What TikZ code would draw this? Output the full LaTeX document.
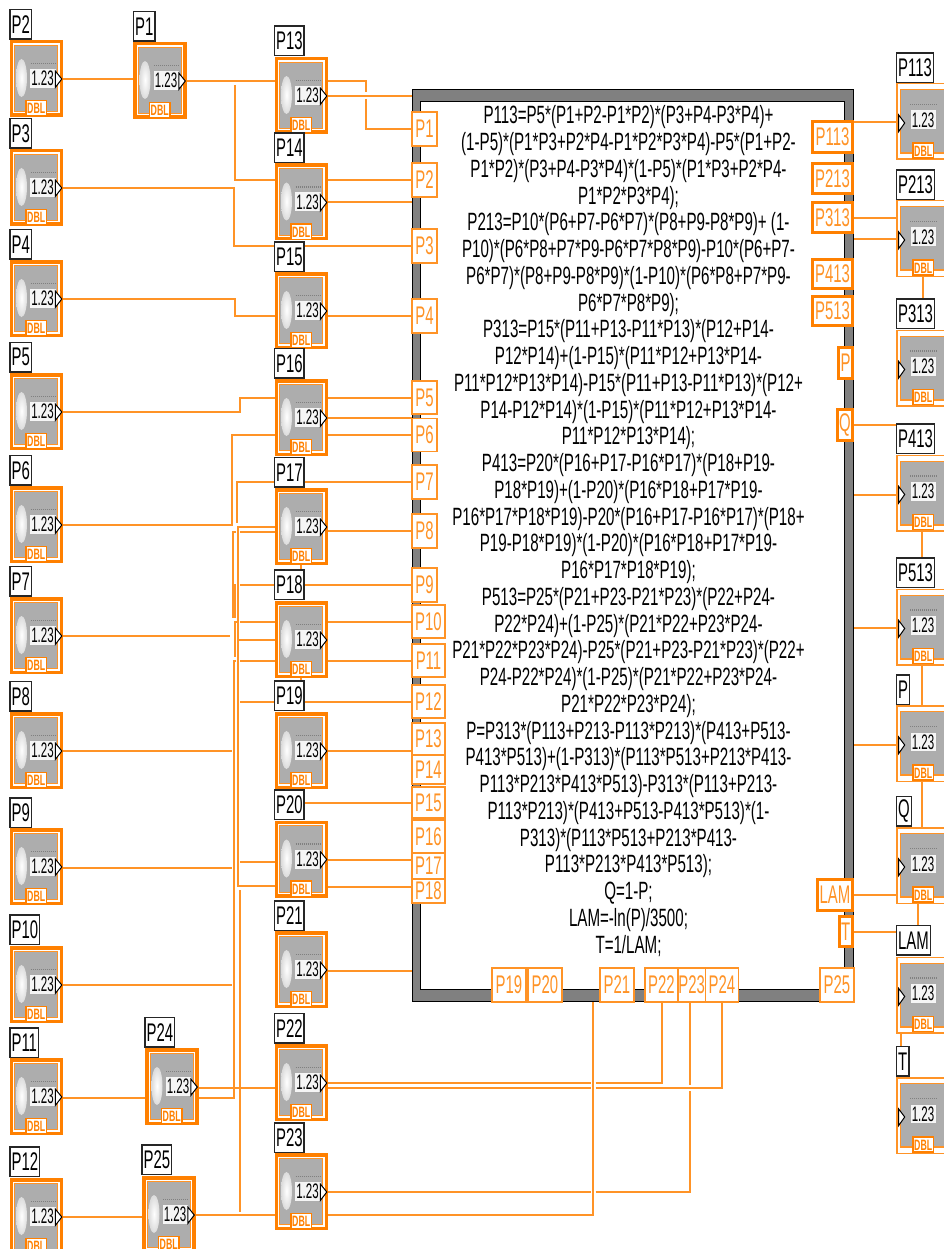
\documentclass[tikz,border=0pt]{standalone}
\usepackage{fontspec}
\setmainfont{Liberation Sans}
\newfontfamily\nf[FakeStretch=0.585]{Liberation Sans}
\newfontfamily\nfe[FakeStretch=0.605]{Liberation Sans}
\newfontfamily\nfn[FakeStretch=0.55]{Liberation Sans}
\usetikzlibrary{backgrounds}
\definecolor{othick}{HTML}{FF8000}
\definecolor{owire}{HTML}{FF9326}
\definecolor{blockgray}{HTML}{ADADAD}
\definecolor{framegray}{HTML}{808080}
\tikzset{
  x=1pt,y=-1pt,
  wire/.style={draw=owire,line width=2pt,line join=miter},
  lbl/.style={draw=black!85,fill=white,line width=1.5pt,anchor=north west,minimum height=29.5pt,inner xsep=1.6pt,inner ysep=0pt,outer sep=0pt,text=black,font=\nf\fontsize{25.5}{26}\selectfont},
  blk/.style={anchor=north west,minimum width=53.5pt,minimum height=77pt,inner sep=0pt,outer sep=0pt},
  val/.style={inner sep=0pt,text=black,font=\nfn\fontsize{21}{22}\selectfont},
  dbl/.style={inner sep=0pt,text=othick,font=\nf\bfseries\fontsize{15}{16}\selectfont},
  term/.style={draw=owire,fill=white,line width=1.6pt,inner sep=0pt,outer sep=0pt,text=owire,font=\nf\fontsize{25.5}{26}\selectfont},
  termout/.style={term,draw=othick,line width=3pt},
  formula/.style={align=center,inner sep=0pt,text=black,font=\nfe\fontsize{25}{26.75}\selectfont},
}
% #1 name/label, #2 #3 block top-left, #4 #5 label top-left
\newcommand\ctlbox[5]{%
  \node[blk] (b#1) at (#2,#3) {};
  \begin{scope}[shift={(#2,#3)}]
    \fill[othick] (0,0) rectangle (53.5,77);
    \fill[white] (3.5,3.5) rectangle (50,73.5);
    \fill[othick!85] (4.7,4.7) rectangle (48.8,72.3);
    \fill[blockgray] (5.9,5.9) rectangle (47.6,71.1);
    \shade[inner color=white,outer color=black!14] (12,38) ellipse (5.5 and 19);
    \draw[black!50,line width=1.2pt,dash pattern=on 1pt off 1pt] (21,23.5) -- (46,23.5);
    \fill[white!92!gray] (20.5,29) rectangle (46,48);
    \filldraw[fill=white,draw=black,line width=1pt] (45.8,31) -- (52.3,39) -- (45.8,47.5) -- cycle;
    \filldraw[fill=white,draw=othick,line width=1.5pt] (16.5,60.5) rectangle (36.8,76);
  \end{scope}
  \node[val] (v#1) at (#2+33,#3+38.5) {1.23};
  \node[dbl] (d#1) at (#2+26.7,#3+68.5) {DBL};
  \node[lbl] (l#1) at (#4,#5) {#1};
}
\newcommand\indbox[5]{%
  \node[blk] (b#1) at (#2,#3) {};
  \begin{scope}[shift={(#2,#3)}]
    \fill[owire] (0,0) rectangle (53.5,77);
    \fill[white] (1.5,1.5) rectangle (52,75.5);
    \fill[owire] (3.7,6) rectangle (50,71);
    \fill[blockgray] (4.7,7) rectangle (49,69.3);
    \draw[black!50,line width=1.2pt,dash pattern=on 1pt off 1pt] (14,21.5) -- (41,21.5);
    \fill[white!92!gray] (14.5,27.5) rectangle (39.5,46);
    \filldraw[fill=white,draw=black,line width=1pt] (2.7,32) -- (8.7,40) -- (2.7,48.5) -- cycle;
    \filldraw[fill=white,draw=othick,line width=1.5pt] (17,60) rectangle (37.5,75);
  \end{scope}
  \node[val] (v#1) at (#2+27,#3+37) {1.23};
  \node[dbl] (d#1) at (#2+27.2,#3+68) {DBL};
  \node[lbl] (l#1) at (#4,#5) {#1};
}
% #1 style, #2 name/label, #3 #4 #5 #6 corners
\newcommand\termbox[6]{%
  \node[#1,minimum width={(#5)-(#3)},minimum height={(#6)-(#4)}] (t#2) at ({((#3)+(#5))/2},{((#4)+(#6))/2}) {#2};
}
\begin{document}
\begin{tikzpicture}
\useasboundingbox (0,0) rectangle (944,1249);
\clip (0,0) rectangle (944,1249);
% structure frame
\node[minimum width=442.5pt,minimum height=913pt,inner sep=0pt,outer sep=0pt,anchor=north west] (box) at (411.5,89) {};
\fill[black] (411.5,89) rectangle (854,1002);
\fill[framegray] (412.5,90) rectangle (853,1001);
\fill[black] (420,101) rectangle (845,990);
\fill[white] (421,102) rectangle (844,989);
\node[formula] (eq) at (628.5,531) {P113=P5*(P1+P2-P1*P2)*(P3+P4-P3*P4)+\\
(1-P5)*(P1*P3+P2*P4-P1*P2*P3*P4)-P5*(P1+P2-\\
P1*P2)*(P3+P4-P3*P4)*(1-P5)*(P1*P3+P2*P4-\\
P1*P2*P3*P4);\\
P213=P10*(P6+P7-P6*P7)*(P8+P9-P8*P9)+ (1-\\
P10)*(P6*P8+P7*P9-P6*P7*P8*P9)-P10*(P6+P7-\\
P6*P7)*(P8+P9-P8*P9)*(1-P10)*(P6*P8+P7*P9-\\
P6*P7*P8*P9);\\
P313=P15*(P11+P13-P11*P13)*(P12+P14-\\
P12*P14)+(1-P15)*(P11*P12+P13*P14-\\
P11*P12*P13*P14)-P15*(P11+P13-P11*P13)*(P12+\\
P14-P12*P14)*(1-P15)*(P11*P12+P13*P14-\\
P11*P12*P13*P14);\\
P413=P20*(P16+P17-P16*P17)*(P18+P19-\\
P18*P19)+(1-P20)*(P16*P18+P17*P19-\\
P16*P17*P18*P19)-P20*(P16+P17-P16*P17)*(P18+\\
P19-P18*P19)*(1-P20)*(P16*P18+P17*P19-\\
P16*P17*P18*P19);\\
P513=P25*(P21+P23-P21*P23)*(P22+P24-\\
P22*P24)+(1-P25)*(P21*P22+P23*P24-\\
P21*P22*P23*P24)-P25*(P21+P23-P21*P23)*(P22+\\
P24-P22*P24)*(1-P25)*(P21*P22+P23*P24-\\
P21*P22*P23*P24);\\
P=P313*(P113+P213-P113*P213)*(P413+P513-\\
P413*P513)+(1-P313)*(P113*P513+P213*P413-\\
P113*P213*P413*P513)-P313*(P113+P213-\\
P113*P213)*(P413+P513-P413*P513)*(1-\\
P313)*(P113*P513+P213*P413-\\
P113*P213*P413*P513);\\
Q=1-P;\\
LAM=-ln(P)/3500;\\
T=1/LAM;};
% left terminals
\termbox{term}{P1}{412}{112}{437}{146}
\termbox{term}{P2}{412}{163}{437}{197}
\termbox{term}{P3}{412}{229}{437}{263}
\termbox{term}{P4}{412}{299}{437}{333}
\termbox{term}{P5}{412}{381}{437}{414}
\termbox{term}{P6}{412}{418.5}{437}{451.5}
\termbox{term}{P7}{412}{465}{437}{499}
\termbox{term}{P8}{412}{514}{437}{548}
\termbox{term}{P9}{412}{568}{437}{602}
\termbox{term}{P10}{412}{605}{445}{638}
\termbox{term}{P11}{412}{644}{445}{677}
\termbox{term}{P12}{412}{685}{445}{718}
\termbox{term}{P13}{412}{723}{445}{755}
\termbox{term}{P14}{412}{755}{445}{784}
\termbox{term}{P15}{412}{787}{445}{818}
\termbox{term}{P16}{412}{820}{445}{853}
\termbox{term}{P17}{412}{853}{445}{879}
\termbox{term}{P18}{412}{879}{445}{903}
% bottom terminals
\termbox{term}{P19}{492}{968}{526}{1002}
\termbox{term}{P20}{528}{968}{562}{1002}
\termbox{term}{P21}{600}{968}{634}{1002}
\termbox{term}{P22}{645}{968}{678}{1002}
\termbox{term}{P23}{678}{968}{705.5}{1002}
\termbox{term}{P24}{705.5}{968}{738.5}{1002}
\termbox{term}{P25}{820}{968}{854}{1002}
% right terminals
\termbox{termout}{P113}{812.5}{121.5}{852.5}{152.5}
\termbox{termout}{P213}{812.5}{163.5}{852.5}{193.5}
\termbox{termout}{P313}{812.5}{202.5}{852.5}{232.5}
\termbox{termout}{P413}{812.5}{259.5}{852.5}{288}
\termbox{termout}{P513}{812.5}{296}{852.5}{325.5}
\termbox{termout}{P}{838.5}{347.5}{852.5}{378.5}
\termbox{termout}{Q}{837.5}{409.5}{852.5}{440.5}
\termbox{termout}{LAM}{817.5}{879.5}{852.5}{910.5}
\termbox{termout}{T}{839}{916.5}{852.5}{946.5}
% controls
\ctlbox{P2}{9.5}{40}{10}{9.5}
\ctlbox{P3}{9.5}{149}{10}{118.5}
\ctlbox{P4}{9.5}{260}{10}{229.5}
\ctlbox{P5}{9.5}{373}{10}{342.5}
\ctlbox{P6}{9.5}{486}{10}{455.5}
\ctlbox{P7}{9.5}{597}{10}{566.5}
\ctlbox{P8}{9.5}{712}{10}{681.5}
\ctlbox{P9}{9.5}{828}{10}{798}
\ctlbox{P10}{9.5}{946}{10}{915}
\ctlbox{P11}{9.5}{1058}{10}{1028}
\ctlbox{P12}{9.5}{1178}{10}{1147}
\ctlbox{P1}{133}{42}{133.5}{11.5}
\ctlbox{P13}{274.5}{57}{274.5}{26}
\ctlbox{P14}{274.5}{163.5}{274.5}{133}
\ctlbox{P15}{274.5}{272}{274.5}{242}
\ctlbox{P16}{274.5}{379}{274.5}{348.5}
\ctlbox{P17}{274.5}{488}{274.5}{457.5}
\ctlbox{P18}{274.5}{601}{274.5}{570}
\ctlbox{P19}{274.5}{712}{274.5}{681}
\ctlbox{P20}{274.5}{820.5}{274.5}{790}
\ctlbox{P21}{274.5}{931}{274.5}{901}
\ctlbox{P22}{274.5}{1044}{274.5}{1013.5}
\ctlbox{P23}{274.5}{1153}{274.5}{1123}
\ctlbox{P24}{145}{1048}{145}{1017.5}
\ctlbox{P25}{142}{1176}{142}{1145}
% indicators
\indbox{P113}{896}{83}{896.5}{53}
\indbox{P213}{896}{200}{896.5}{170}
\indbox{P313}{896}{329.5}{896.5}{299}
\indbox{P413}{896}{454.5}{896.5}{424}
\indbox{P513}{896}{588.5}{896.5}{558}
\indbox{P}{896}{705}{896.5}{675}
\indbox{Q}{896}{827}{896.5}{796.5}
\indbox{LAM}{896}{956.5}{896.5}{925.5}
\indbox{T}{896}{1077}{896.5}{1046.5}
% free wire ends
\coordinate (busA) at (235,85);
\coordinate (busB) at (238,527);
\coordinate (busC) at (234,660.7);
\coordinate (busD) at (240,890);
\coordinate (vP21) at (593,1002);
\begin{scope}[on background layer]
\fill[white] (0,0) rectangle (944,1249);
% first column to next
\draw[wire] (bP2.east|-0,79) -- (bP1.west|-0,79);
\draw[wire] (bP1.east|-0,81) -- (bP13.west|-0,81);
\draw[wire] (busA) -- (235,180) -- (bP14.west|-0,180);
\draw[wire] (bP3.east|-0,188) -- (234,188) -- (234,246) -- (tP3.west);
\draw[wire] (bP4.east|-0,299) -- (235,299) -- (235,316) -- (bP15.west|-0,316);
\draw[wire] (bP5.east|-0,412) -- (240,412) -- (240,398) -- (bP16.west|-0,398);
\draw[wire] (bP6.east|-0,525) -- (232,525) -- (232,435) -- (bP16.west|-0,435);
\draw[wire] (bP7.east|-0,636) -- (230,636);
\draw[wire] (bP8.east|-0,751) -- (231.5,751);
\draw[wire] (bP9.east|-0,868) -- (231.5,868);
\draw[wire] (bP10.east|-0,985) -- (231.5,985);
\draw[wire] (bP11.east|-0,1098) -- (bP24.west|-0,1098);
\draw[wire] (bP12.east|-0,1217) -- (bP25.west|-0,1217);
\draw[wire] (bP24.east|-0,1087.5) -- (bP22.west|-0,1087.5);
\draw[wire] (bP25.east|-0,1215) -- (bP23.west|-0,1215);
% bus
\draw[wire] (236.5,523) -- (236.5,482) -- (tP7.west);
\draw[wire] (bP17.west|-busB) -- (busB) -- (238,885.7) -- (bP20.west|-0,885.7);
\draw[wire] (238,640) -- (bP18.west|-0,640);
\draw[wire] (240,531.5) -- (bP17.west|-0,531.5);
\draw[wire] (236,531.5) -- (232.5,531.5) -- (232.5,618);
\draw[wire] (235.3,584) -- (235.3,618);
\draw[wire] (240,585) -- (tP9.west);
\draw[wire] (235.3,656.7) -- (235.3,621.7) -- (237,621.7);
\draw[wire] (240,621.7) -- (bP18.west|-0,621.7);
\draw[wire] (240,660.7) -- (bP18.west|-0,660.7);
\draw[wire] (236,660.7) -- (busC) -- (234,1098) -- (bP24.east|-0,1098);
\draw[wire] (240,701.5) -- (tP12.west);
\draw[wire] (240,861.7) -- (bP20.west|-0,861.7);
\draw[wire] (busD) -- (240,1212);
% second column to structure
\draw[wire] (bP13.east|-0,81) -- (366,81) -- (366,92);
\draw[wire] (366,99) -- (366,129) -- (tP1.west);
\draw[wire] (bP13.east|-0,96) -- (box.west|-0,96);
\draw[wire] (bP14.east|-tP2.west) -- (tP2.west);
\draw[wire] (bP14.east|-0,202.5) -- (box.west|-0,202.5);
\draw[wire] (bP15.east|-tP4.west) -- (tP4.west);
\draw[wire] (bP16.east|-tP5.west) -- (tP5.west);
\draw[wire] (bP16.east|-0,418) -- (box.west|-0,418);
\draw[wire] (bP16.east|-tP6.west) -- (tP6.west);
\draw[wire] (bP17.east|-tP8.west) -- (tP8.west);
\draw[wire] (bP18.east|-tP10.west) -- (tP10.west);
\draw[wire] (bP18.east|-tP11.west) -- (tP11.west);
\draw[wire] (bP19.east|-0,751) -- (tP13.west|-0,751);
\draw[wire] (lP20.east|-tP15.west) -- (tP15.west);
\draw[wire] (bP20.east|-0,859.5) -- (tP17.west|-0,859.5);
\draw[wire] (bP20.east|-0,886.7) -- (tP18.west|-0,886.7);
\draw[wire] (bP21.east|-0,970.7) -- (box.west|-0,970.7);
\draw[wire] (bP17.south-|301,0) -- (lP18.north-|301,0);
\draw[wire] (bP18.south-|301,0) -- (lP19.north-|301,0);
% bottom wiring
\draw[wire] (bP22.east|-0,1083.3) -- (591,1083.3);
\draw[wire] (595.5,1083.3) -- (tP22.south|-0,1083.3) -- (tP22.south);
\draw[wire] (bP22.east|-0,1087.5) -- (591,1087.5);
\draw[wire] (595.5,1087.5) -- (tP24.south|-0,1087.5) -- (tP24.south);
\draw[wire] (689.6,1002) -- (689.6,1085);
\draw[wire] (bP23.east|-0,1192) -- (591,1192);
\draw[wire] (595.5,1192) -- (689.6,1192) -- (689.6,1091);
\draw[wire] (vP21) -- (593,1215) -- (bP23.east|-0,1215);
% right side
\draw[wire] (tP113.east|-0,122) -- (bP113.west|-0,122);
\draw[wire] (tP313.east|-0,218) -- (bP213.west|-0,218);
\draw[wire] (box.east|-0,239.5) -- (bP213.west|-0,239.5);
\draw[wire] (tQ.east) -- (lP413.west|-tQ.east);
\draw[wire] (box.east|-0,494.7) -- (bP413.west|-0,494.7);
\draw[wire] (box.east|-0,628) -- (bP513.west|-0,628);
\draw[wire] (box.east|-0,744.5) -- (bP.west|-0,744.5);
\draw[wire] (tLAM.east) -- (bQ.west|-tLAM.east);
\draw[wire] (tT.east) -- (lLAM.west|-tT.east);
\draw[wire] (bP213.south-|923,0) -- (lP313.north-|923,0);
\draw[wire] (bP413.south-|922,0) -- (lP513.north-|922,0);
\draw[wire] (bP513.south-|922,0) -- (bP.north-|922,0);
\draw[wire] (bP.south-|922,0) -- (bQ.north-|922,0);
\draw[wire] (bQ.south-|918,0) -- (lLAM.north-|918,0);
\draw[wire] (bLAM.south-|901,0) -- (lT.north-|901,0);
\end{scope}
\end{tikzpicture}
\end{document}
